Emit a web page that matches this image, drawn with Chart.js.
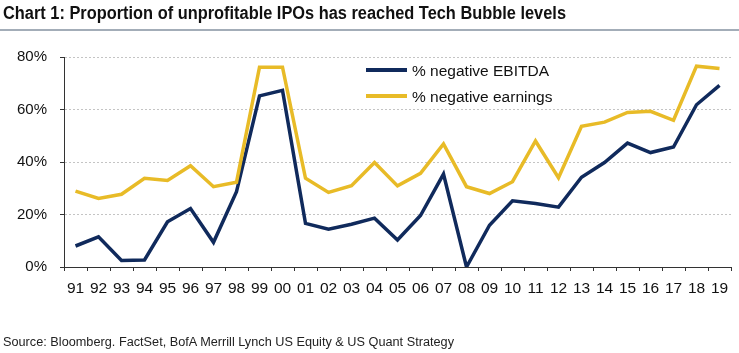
<!DOCTYPE html>
<html>
<head>
<meta charset="utf-8">
<script src="https://cdn.jsdelivr.net/npm/chart.js@4"></script>
<style>
  html, body { margin: 0; padding: 0; background: #fff; }
  #wrap { position: relative; width: 739px; height: 353px; overflow: hidden; font-family: "Liberation Sans", Arial, sans-serif; }
  #chart { position: absolute; left: 0; top: 0; }
  .txt { position: absolute; white-space: nowrap; line-height: 1; color: #111; }
  #title { left: 3px; top: 4.5px; font-size: 17.5px; font-weight: bold; transform-origin: 0 0; }
  #rule { position: absolute; left: 0; top: 29px; width: 739px; height: 2px; background: #a3adb8; }
  #source { left: 3px; top: 335.5px; font-size: 12.5px; color: #222; transform-origin: 0 0; }
  .lg { position: absolute; height: 4px; width: 41px; left: 366px; }
  .lgt { left: 412px; font-size: 15.5px; color: #111; }
</style>
</head>
<body>
<div id="wrap">
  <canvas id="chart" width="739" height="353"></canvas>
  <div class="txt" id="title">Chart 1: Proportion of unprofitable IPOs has reached Tech Bubble levels</div>
  <div id="rule"></div>
  <div class="lg" style="top:67.5px;background:#102a5c;"></div>
  <div class="txt lgt" style="top:62.9px;">% negative EBITDA</div>
  <div class="lg" style="top:94px;background:#e8bb27;"></div>
  <div class="txt lgt" style="top:89.4px;">% negative earnings</div>
  <div class="txt" id="source">Source: Bloomberg. FactSet, BofA Merrill Lynch US Equity &amp; US Quant Strategy</div>
</div>
<script>
const years = ["91","92","93","94","95","96","97","98","99","00","01","02","03","04","05","06","07","08","09","10","11","12","13","14","15","16","17","18","19"];
const negEbitda = [8.0,11.5,2.5,2.7,17.2,22.3,9.4,28.7,65.2,67.3,16.6,14.4,16.3,18.6,10.3,19.6,35.4,0.0,15.9,25.2,24.2,22.8,34.2,39.8,47.2,43.6,45.7,61.8,69.2];
const negEarnings = [28.9,26.1,27.7,33.8,33.0,38.6,30.6,32.3,76.1,76.1,33.8,28.4,31.0,39.8,30.9,35.7,46.9,30.6,28.0,32.5,48.0,34.0,53.6,55.2,58.9,59.3,55.9,76.5,75.6];
const yTicks = [0, 20, 40, 60, 80];

// fit text widths to the narrow lettering of the reference
function fitWidth(id, target) {
  const t = document.getElementById(id);
  const w = t.getBoundingClientRect().width;
  t.style.transform = 'scaleX(' + (target / w) + ')';
}
fitWidth('title', 563);
fitWidth('source', 451);

new Chart(document.getElementById('chart'), {
  type: 'line',
  data: {
    labels: years,
    datasets: [
      { label: '% negative earnings', data: negEarnings, borderColor: '#e8bb27', borderWidth: 3.5, pointRadius: 0, tension: 0, borderJoinStyle: 'miter', fill: false },
      { label: '% negative EBITDA', data: negEbitda, borderColor: '#102a5c', borderWidth: 3.5, pointRadius: 0, tension: 0, borderJoinStyle: 'miter', fill: false }
    ]
  },
  options: {
    responsive: false,
    animation: false,
    events: [],
    layout: { padding: { top: 57, right: 8, left: 0, bottom: 0 } },
    plugins: { legend: { display: false }, tooltip: { enabled: false }, title: { display: false } },
    scales: {
      x: {
        offset: true,
        afterFit: s => { s.height = 86; },
        grid: { offset: true, drawOnChartArea: false, drawTicks: true, tickLength: 4, tickColor: '#333', tickWidth: 1 },
        border: { display: true, color: '#333', width: 1 },
        ticks: { color: '#111', font: { family: '"Liberation Sans", Arial, sans-serif', size: 15.5 }, padding: 8, maxRotation: 0, autoSkip: false }
      },
      y: {
        min: 0, max: 80,
        afterFit: s => { s.width = 64; },
        afterBuildTicks: s => { s.ticks = yTicks.map(v => ({ value: v })); },
        grid: { color: ctx => (ctx.tick && ctx.tick.value === 0) ? 'rgba(0,0,0,0)' : '#c4c4c4', lineWidth: 1, drawTicks: true, tickLength: 4, tickColor: '#333' },
        border: { display: true, color: '#333', width: 1, dash: [2, 2] },
        ticks: { color: '#111', font: { family: '"Liberation Sans", Arial, sans-serif', size: 15 }, padding: 13, callback: v => v + '%' }
      }
    }
  }
});
</script>
</body>
</html>
